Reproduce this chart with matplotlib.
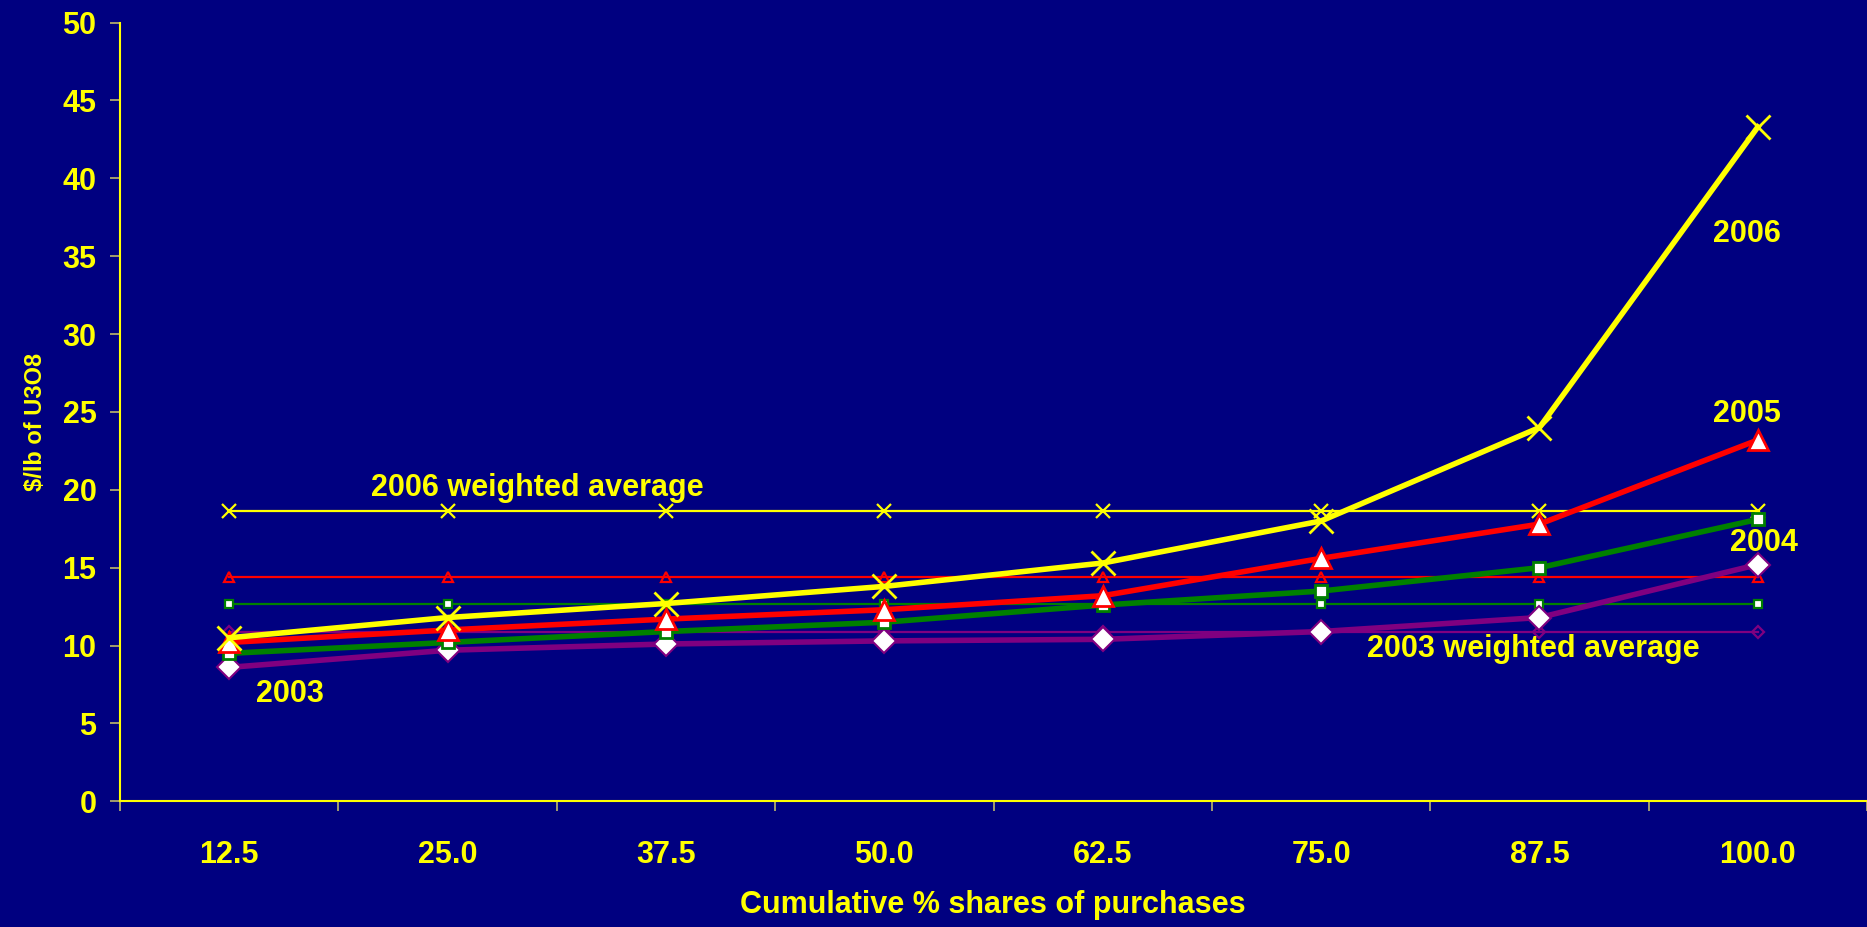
import numpy as np
import matplotlib.pyplot as plt

plt.rcParams['font.family'] = ['Liberation Sans', 'DejaVu Sans']

shares = ['12.5', '25.0', '37.5', '50.0', '62.5', '75.0', '87.5', '100.0']

p2006 = [10.5, 11.8, 12.7, 13.8, 15.3, 18.0, 24.0, 43.3]
p2005 = [10.2, 11.0, 11.7, 12.3, 13.2, 15.6, 17.8, 23.2]
p2004 = [9.5, 10.2, 10.9, 11.5, 12.6, 13.5, 15.0, 18.1]
p2003 = [8.6, 9.7, 10.1, 10.3, 10.4, 10.9, 11.8, 15.2]

avg2006 = 18.65
avg2005 = 14.4
avg2004 = 12.7
avg2003 = 10.9

navy = '#000080'
yellow = '#FFFF00'
red = '#FF0000'
green = '#008000'
purple = '#800080'

x = np.arange(len(shares))

fig = plt.figure(figsize=(18.67, 9.27), dpi=100, facecolor=navy)
ax = fig.add_axes([0.0643, 0.1356, 0.9357, 0.8400])
ax.set_facecolor(navy)

# weighted averages (thin lines with small markers)
ax.plot(x, [avg2006] * len(x), color=yellow, lw=1.6, marker='x', ms=10, mew=1.6, zorder=3)
ax.plot(x, [avg2005] * len(x), color=red, lw=1.6, marker='^', ms=7, mfc='none', mec=red, mew=1.6, zorder=3)
ax.plot(x, [avg2004] * len(x), color=green, lw=1.6, marker='s', ms=6, mfc='white', mec=green, mew=1.6, zorder=3)
ax.plot(x, [avg2003] * len(x), color=purple, lw=1.6, marker='D', ms=6, mfc='none', mec=purple, mew=1.6, zorder=3)

# yearly curves
ax.plot(x, p2003, color=purple, lw=4, marker='D', ms=12, mfc='white', mec=purple, mew=1.5, zorder=4)
ax.plot(x, p2004, color=green, lw=4, marker='s', ms=9, mfc='white', mec=green, mew=2, zorder=5)
ax.plot(x, p2005, color=red, lw=4, marker='^', ms=15, mfc='white', mec=red, mew=2, zorder=6)
ax.plot(x, p2006, color=yellow, lw=4, marker='x', ms=17, mew=2, zorder=7)

ax.set_xlim(-0.5, len(x) - 0.5)
ax.set_ylim(0, 50)
ax.set_yticks(np.arange(0, 51, 5))
ax.set_xticks(x)
ax.set_xticklabels(shares)
ax.set_xticks(np.arange(-0.5, len(x), 1), minor=True)

for s in ['top', 'right']:
    ax.spines[s].set_visible(False)
for s in ['left', 'bottom']:
    ax.spines[s].set_color(yellow)
    ax.spines[s].set_linewidth(1.5)

ax.tick_params(axis='y', colors='#BDB76B', labelcolor=yellow, length=7, width=1.2, pad=10)
ax.tick_params(axis='x', which='major', length=0, pad=28, labelcolor=yellow)
ax.tick_params(axis='x', which='minor', colors='#BDB76B', length=7, width=1.2)
for lab in ax.get_xticklabels() + ax.get_yticklabels():
    lab.set_fontsize(22)
    lab.set_fontweight('bold')

txt = dict(color=yellow, fontsize=22, fontweight='bold', ha='center', va='center')
ax.text(6.95, 36.4, '2006', **txt)
ax.text(6.95, 24.85, '2005', **txt)
ax.text(7.03, 16.6, '2004', **txt)
ax.text(0.28, 6.9, '2003', **txt)
ax.text(1.41, 20.1, '2006 weighted average', **txt)
ax.text(5.97, 9.8, '2003 weighted average', **txt)

fig.text(0.532, 0.024, 'Cumulative % shares of purchases', color=yellow,
         fontsize=22, fontweight='bold', ha='center', va='center')
fig.text(0.019, 0.545, '$/lb of U3O8', color=yellow, fontsize=17,
         fontweight='bold', ha='center', va='center', rotation=90)

fig.savefig('out.png', dpi=100, facecolor=navy)
